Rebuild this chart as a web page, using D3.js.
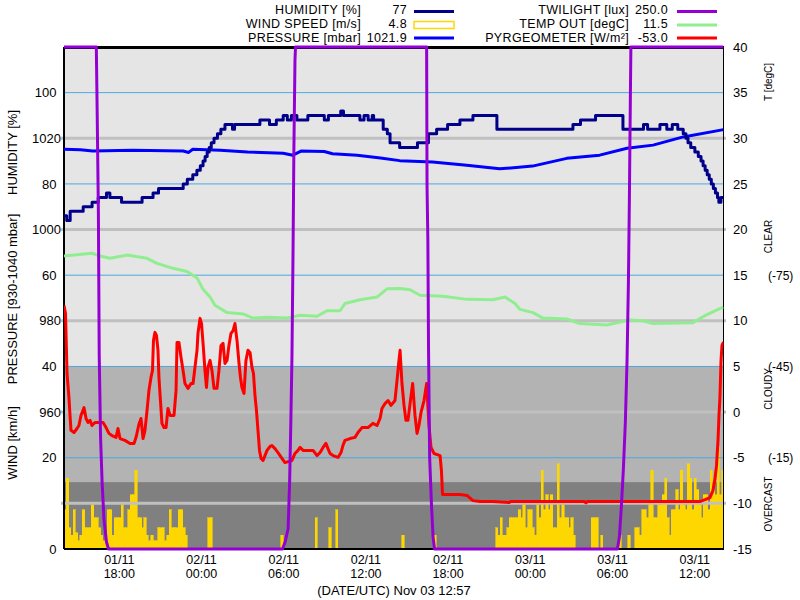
<!DOCTYPE html>
<html><head><meta charset="utf-8">
<script src="https://cdn.jsdelivr.net/npm/d3@7"></script>
<style>
body{margin:0;background:#fff}
text{font-family:"Liberation Sans",Arial,sans-serif}
</style>
</head><body>
<svg id="c" width="800" height="600"></svg>
<script>
// ---- time base: hours since 01/11 14:00 UTC ----
const START = Date.UTC(2023, 10, 1, 14, 0);
const SPAN_H = 48.14;

// humidity [%] : [hour, value]
const humidity = [[0,73],[0.2,72],[0.45,74],[1.4,75],[2.05,76],[2.5,77],[3.1,78],[3.35,77],[4.2,76],[5.7,77],[6.5,78],[6.9,79],[8.7,80],[9.0,81],[9.4,82],[9.7,83],[9.95,84],[10.15,85],[10.3,86],[10.45,87],[10.6,88],[10.75,89],[10.95,90],[11.2,91],[11.45,92],[11.75,93],[12.3,92],[12.45,93],[14.3,94],[15.0,93],[15.5,94],[16.0,95],[16.3,94],[16.6,95],[17.0,94],[17.8,95],[19.0,94],[19.3,95],[20.2,96],[20.4,95],[21.6,94],[21.9,95],[22.2,94],[22.5,95],[22.6,94],[23.3,92],[23.6,91],[23.8,89],[24.5,88],[25.8,89],[26.6,91],[27.2,92],[28.0,93],[28.9,94],[29.85,95],[31.6,92],[37.15,93],[37.7,94],[38.8,95],[40.8,92],[42.3,93],[42.6,92],[43.5,93],[44.0,92],[44.4,93],[44.8,92],[45.2,91],[45.4,90],[45.55,89],[45.75,88],[46.05,87],[46.3,86],[46.5,85],[46.65,84],[46.8,83],[46.95,82],[47.1,81],[47.25,80],[47.4,79],[47.55,78],[47.7,77],[47.8,76],[47.95,77],[48.14,77]];

// pressure [mbar]
const pressure = [[0,1017.6],[1.2,1017.5],[2.1,1017.2],[5.0,1017.4],[8.7,1017.2],[9.1,1016.9],[9.4,1017.6],[11.4,1017.4],[13.4,1017.0],[16.0,1016.7],[16.7,1016.3],[17.3,1017.2],[19.0,1017.1],[19.6,1016.6],[21.4,1016.3],[23.1,1015.7],[24.5,1015.1],[26.9,1014.8],[29.4,1014.1],[31.8,1013.3],[34.2,1013.9],[36.7,1015.6],[39.1,1016.3],[41.1,1017.8],[43.0,1018.5],[45.2,1020.3],[48.14,1021.9]];

// outside temperature [degC]
const tempOut = [[0,17.1],[2.04,17.4],[2.63,17.1],[3.36,16.85],[4.6,17.2],[6.06,16.85],[6.79,16.3],[7.96,15.75],[8.98,15.4],[9.71,14.7],[10.15,13.45],[10.66,12.6],[11.02,11.7],[11.9,10.9],[13.07,10.75],[13.8,10.3],[14.82,10.4],[16.28,10.3],[17.23,10.6],[18.47,10.5],[19.2,11.1],[20.15,11.1],[20.51,11.9],[21.61,12.3],[22.85,12.6],[23.58,13.5],[24.53,13.55],[25.26,13.4],[25.99,12.8],[27.66,12.7],[29.42,12.35],[31.31,12.3],[32.19,12.6],[32.92,11.9],[33.28,11.25],[34.23,10.9],[34.96,10.3],[36.71,10.2],[37.66,9.7],[39.63,9.55],[41.31,10.1],[42.26,10.0],[42.99,9.7],[45.91,9.8],[46.64,10.45],[47.66,11.2],[48.14,11.5]];

// pyrgeometer [W/m2]
const pyrgeometer = [[0,-65.0],[0.11,-62.4],[0.18,-50.3],[0.22,-42.7],[0.29,-38.8],[0.36,-34.8],[0.44,-28.9],[0.51,-24.0],[0.73,-23.3],[0.95,-24.6],[1.09,-25.6],[1.24,-28.9],[1.46,-31.5],[1.61,-27.9],[1.75,-26.6],[1.90,-27.3],[2.04,-25.6],[2.26,-26.6],[2.63,-26.6],[2.85,-26.6],[3.07,-24.9],[3.28,-23.0],[3.50,-22.3],[3.80,-21.7],[3.94,-24.6],[4.09,-21.3],[4.45,-20.7],[4.82,-19.7],[5.11,-19.7],[5.26,-21.7],[5.47,-26.0],[5.62,-27.9],[5.77,-21.3],[5.91,-24.0],[6.06,-30.5],[6.20,-37.1],[6.35,-41.4],[6.46,-43.7],[6.53,-53.5],[6.64,-56.2],[6.75,-55.2],[6.86,-50.3],[6.93,-41.4],[7.04,-33.8],[7.15,-26.3],[7.30,-24.9],[7.45,-24.9],[7.59,-31.2],[7.74,-28.9],[8.03,-28.9],[8.18,-37.1],[8.25,-52.9],[8.39,-52.9],[8.54,-48.0],[8.69,-43.7],[8.83,-39.4],[9.05,-37.8],[9.27,-39.4],[9.42,-39.4],[9.56,-44.7],[9.71,-50.3],[9.78,-55.9],[9.93,-60.8],[10.04,-59.1],[10.15,-52.6],[10.29,-43.7],[10.40,-38.1],[10.51,-44.7],[10.66,-47.0],[10.80,-43.7],[10.95,-37.8],[11.17,-37.8],[11.31,-43.7],[11.46,-51.9],[11.61,-52.6],[11.75,-46.0],[11.90,-47.0],[12.04,-51.9],[12.19,-55.9],[12.34,-56.8],[12.48,-59.1],[12.63,-53.5],[12.77,-46.3],[12.88,-41.4],[12.99,-38.1],[13.14,-36.1],[13.28,-46.9],[13.43,-50.3],[13.58,-49.6],[13.72,-44.7],[13.83,-42.7],[13.94,-35.5],[14.05,-30.5],[14.16,-24.0],[14.27,-17.4],[14.38,-14.8],[14.53,-14.1],[14.67,-15.7],[14.82,-17.4],[15.04,-18.7],[15.18,-19.0],[15.40,-18.0],[15.62,-16.7],[15.91,-14.8],[16.13,-13.4],[16.42,-13.8],[16.64,-14.1],[16.86,-16.4],[17.08,-17.4],[17.23,-18.4],[17.45,-17.4],[17.81,-17.4],[18.18,-17.4],[18.47,-15.7],[18.69,-16.7],[18.91,-18.4],[19.12,-19.7],[19.27,-18.0],[19.42,-16.4],[19.64,-15.7],[20.0,-15.1],[20.22,-16.7],[20.36,-19.0],[20.51,-20.7],[20.88,-21.3],[21.24,-21.7],[21.46,-23.3],[21.75,-24.9],[22.19,-24.9],[22.55,-26.3],[22.85,-25.6],[23.07,-27.9],[23.21,-31.2],[23.43,-32.8],[23.65,-33.8],[23.87,-32.2],[24.16,-33.8],[24.31,-40.4],[24.45,-47.0],[24.53,-50.3],[24.67,-39.4],[24.82,-32.2],[24.96,-27.3],[25.11,-27.3],[25.26,-32.8],[25.45,-39.4],[25.62,-28.9],[25.77,-23.0],[25.91,-25.6],[26.06,-29.9],[26.28,-33.8],[26.47,-39.4],[26.64,-25.6],[26.79,-18.4],[27.01,-16.4],[27.45,-15.7],[27.55,-10.8],[27.63,-2.9],[28.18,-2.9],[28.91,-2.9],[29.42,-2.6],[29.85,-0.9],[30.36,-0.6],[31.31,-0.6],[32.5,-0.3],[32.6,-0.6],[38.0,-0.6],[38.1,-0.2],[38.2,-0.6],[46.42,-0.6],[46.79,-1.2],[47.15,-1.9],[47.37,-4.2],[47.52,-8.2],[47.63,-12.4],[47.74,-20.7],[47.81,-28.9],[47.88,-34.8],[47.96,-47.0],[48.03,-51.9],[48.14,-53.0]];

// twilight [lux]
const twilight = [[0,250],[2.36,250],[2.42,124],[2.51,40],[2.57,7.5],[2.67,2.4],[2.78,1.1],[2.92,0.38],[3.10,0.08],[3.25,0],[15.95,0],[16.14,0.08],[16.36,0.25],[16.47,1.1],[16.56,3.1],[16.64,7.3],[16.72,26],[16.78,80],[16.86,216],[16.9,250],[26.47,250],[26.50,53],[26.56,29],[26.61,7.9],[26.69,1.75],[26.83,0.59],[26.94,0.14],[27.05,0],[40.4,0],[40.54,0.14],[40.69,0.62],[40.83,1.4],[40.98,3.1],[41.1,7.0],[41.2,18],[41.27,46],[41.34,139],[41.38,250],[48.14,250]];

// wind speed [m/s] : [minutes since start, value], 10-minute bars
const windSpeed = [[0,2.4],[10,4.3],[20,1.3],[30,0.85],[40,2.4],[50,1.0],[60,0.5],[70,0.85],[80,2.4],[90,1.3],[100,1.3],[110,1.3],[120,2.7],[130,1.9],[140,1.9],[150,1.3],[160,0.85],[170,0.5],[180,0.5],[190,2.4],[200,2.4],[210,0.85],[220,1.9],[230,1.9],[240,1.9],[250,2.7],[260,1.3],[270,1.3],[280,2.4],[290,3.3],[300,3.3],[310,4.8],[320,1.9],[330,1.9],[340,1.3],[350,1.9],[360,0.85],[370,0.5],[380,0.85],[390,0.5],[400,0.5],[410,1.3],[420,1.3],[430,1.3],[440,0.5],[450,0.85],[460,2.4],[470,1.3],[480,1.3],[490,1.3],[500,2.4],[510,2.4],[520,1.3],[530,0.85],[630,1.9],[640,1.9],[950,0.85],[1100,1.9],[1160,1.3],[1190,2.4],[1480,0.85],[1620,0.85],[1890,1.3],[1900,0.85],[1910,1.9],[1920,0.85],[1930,0.85],[1940,1.3],[1950,1.9],[1960,1.9],[1970,1.9],[1980,1.9],[1990,2.4],[2000,1.9],[2010,2.7],[2020,1.3],[2030,2.4],[2040,2.4],[2050,1.3],[2060,0.85],[2070,2.7],[2080,1.9],[2090,4.8],[2100,2.4],[2110,3.3],[2120,2.4],[2130,3.3],[2140,1.3],[2150,1.3],[2160,5.2],[2170,1.9],[2180,2.7],[2190,1.9],[2200,1.9],[2210,1.3],[2220,1.9],[2230,0.85],[2310,1.9],[2320,1.9],[2330,1.9],[2350,0.85],[2430,0.85],[2470,0.85],[2500,1.3],[2510,1.3],[2520,0.85],[2530,2.4],[2540,2.4],[2550,1.9],[2560,2.7],[2570,4.8],[2580,1.9],[2590,1.9],[2600,2.7],[2610,2.7],[2620,3.3],[2630,4.3],[2640,1.9],[2650,0.85],[2660,2.4],[2670,2.4],[2680,3.6],[2690,2.4],[2700,4.8],[2710,2.7],[2720,2.4],[2730,5.2],[2740,4.3],[2750,2.4],[2760,4.3],[2770,3.6],[2780,2.7],[2790,1.9],[2800,3.3],[2810,3.3],[2820,2.4],[2830,4.8],[2840,3.6],[2850,3.3],[2860,6.2],[2870,3.3],[2880,4.8]];

// axis ticks
const humTicks = [0, 20, 40, 60, 80, 100];
const presTicks = [960, 980, 1000, 1020];
const presGrid = [940, 960, 980, 1000, 1020];
const humGrid = [20, 40, 60, 80, 100];
const tempTicks = [-15, -10, -5, 0, 5, 10, 15, 20, 25, 30, 35, 40];
const pyrTicks = [-75, -45, -15];
// sky condition bands on the pyrgeometer scale
const skyBands = [[-150, -45], [-45, -7], [-7, 15]];
const skyColors = ["#e5e5e5", "#b3b3b3", "#808080"];

// ---------- drawing ----------
const svg = d3.select("#c");
const FONT = '"Liberation Sans", Arial, sans-serif';
const tH = h => new Date(START + h * 3600000);
const L = 64, R = 723.5, TOP = 47, BOT = 549;

const x = d3.scaleUtc().domain([tH(0), tH(SPAN_H)]).range([L, R]);
const yHum = d3.scaleLinear().domain([0, 110]).range([BOT, TOP]);
const yPres = d3.scaleLinear().domain([930, 1040]).range([BOT, TOP]);
const yTemp = d3.scaleLinear().domain([-15, 40]).range([BOT, TOP]);
const yPyr = d3.scaleLinear().domain([15, -150]).range([BOT, TOP]);
const yLux = d3.scaleSymlog().constant(1).domain([0, 250]).range([BOT, TOP]);

svg.append("defs").append("clipPath").attr("id", "clip")
  .append("rect").attr("x", L).attr("y", 40).attr("width", R - L).attr("height", 515);

const plot = svg.append("g").attr("clip-path", "url(#clip)");
// bands
plot.append("g").selectAll("rect").data(skyBands).join("rect")
  .attr("x", L).attr("width", R - L)
  .attr("y", d => yPyr(d[0]))
  .attr("height", d => yPyr(d[1]) - yPyr(d[0]))
  .attr("fill", (d, i) => skyColors[i]);

// wind bars
plot.append("g").attr("shape-rendering", "crispEdges").selectAll("rect").data(windSpeed).join("rect")
  .attr("x", d => x(tH(d[0] / 60)))
  .attr("width", d => x(tH((d[0] + 10) / 60)) - x(tH(d[0] / 60)))
  .attr("y", d => yHum(d[1] * 3.6))
  .attr("height", d => BOT - yHum(d[1] * 3.6))
  .attr("fill", "#ffd700").attr("stroke", "#ffd700").attr("stroke-width", 0.6);

// grid
svg.append("g").selectAll("line").data(presGrid).join("line")
  .attr("x1", L - 3).attr("x2", R + 2.5)
  .attr("y1", d => yPres(d)).attr("y2", d => yPres(d))
  .attr("stroke", "#c0c0c0").attr("stroke-width", 3);
svg.append("g").selectAll("line").data(humGrid).join("line")
  .attr("x1", L).attr("x2", R)
  .attr("y1", d => yHum(d)).attr("y2", d => yHum(d))
  .attr("stroke", "#4ea8de").attr("stroke-width", 1);

// frame
const frame = svg.append("g").attr("stroke", "#000").attr("shape-rendering", "crispEdges");
frame.append("line").attr("x1", L).attr("x2", L).attr("y1", TOP).attr("y2", BOT).attr("stroke-width", 1.5);
frame.append("line").attr("x1", R).attr("x2", R).attr("y1", TOP).attr("y2", BOT).attr("stroke-width", 1.5);
frame.append("line").attr("x1", L).attr("x2", R).attr("y1", BOT).attr("y2", BOT).attr("stroke-width", 1.5);
frame.append("line").attr("x1", L).attr("x2", R).attr("y1", TOP).attr("y2", TOP).attr("stroke-width", 3);

const lines = svg.append("g").attr("clip-path", "url(#clip)").attr("fill", "none")
  .attr("stroke-width", 3).attr("stroke-linejoin", "round");
const mk = (ys, curve) => d3.line().x(d => x(tH(d[0]))).y(d => ys(d[1])).curve(curve || d3.curveLinear);
lines.append("path").datum(tempOut).attr("d", mk(yTemp)).attr("stroke", "#90ee90");
lines.append("path").datum(pressure).attr("d", mk(yPres)).attr("stroke", "#0000ff");
lines.append("path").datum(humidity).attr("d", mk(yHum, d3.curveStepAfter)).attr("stroke", "#00008b");
lines.append("path").datum(pyrgeometer).attr("d", mk(yPyr)).attr("stroke", "#ff0000");
lines.append("path").datum(twilight).attr("d", mk(yLux)).attr("stroke", "#9400d3");

// axes
function styleAxis(g, size) {
  g.attr("font-family", FONT).attr("font-size", size);
  g.select(".domain").remove();
}
svg.append("g").attr("transform", `translate(${L},0)`)
  .call(d3.axisLeft(yHum).tickValues(humTicks).tickFormat(d3.format("d")).tickSize(0).tickPadding(7.5))
  .call(g => styleAxis(g, 13));
svg.append("g").attr("transform", `translate(${L},0)`)
  .call(d3.axisLeft(yPres).tickValues(presTicks).tickFormat(d3.format("d")).tickSize(0).tickPadding(3))
  .call(g => styleAxis(g, 13));
svg.append("g").attr("transform", `translate(${R},0)`)
  .call(d3.axisRight(yTemp).tickValues(tempTicks).tickFormat(d => String(d)).tickSize(0).tickPadding(9.5))
  .call(g => styleAxis(g, 13));
svg.append("g").attr("transform", `translate(${R},0)`)
  .call(d3.axisRight(yPyr).tickValues(pyrTicks).tickFormat(d => `(${d})`).tickSize(0).tickPadding(44.5))
  .call(g => styleAxis(g, 12));

const fmtD = d3.utcFormat("%d/%m"), fmtT = d3.utcFormat("%H:%M");
const xa = svg.append("g").attr("transform", `translate(0,${BOT})`)
  .call(d3.axisBottom(x).ticks(d3.utcHour.every(6)).tickFormat(fmtD).tickSize(0))
  .call(g => styleAxis(g, 12.5));
xa.selectAll(".tick").each(function (d) {
  const g = d3.select(this);
  g.select("text").attr("dy", null).attr("y", 14.5);
  g.append("text").attr("fill", "currentColor").attr("y", 28.5).text(fmtT(d));
});

// titles
const txt = (s, tx, ty, size, rot, anchor) => svg.append("text")
  .attr("transform", `translate(${tx},${ty})` + (rot ? " rotate(-90)" : ""))
  .attr("text-anchor", anchor || "middle").attr("font-size", size).attr("fill", "#000").text(s);
txt("HUMIDITY [%]", 16.5, 152.5, 13, true);
txt("PRESSURE [930-1040 mbar]", 16.5, 299, 13, true);
txt("WIND [km/h]", 16.5, 443, 13, true);
txt("T [degC]", 772, 82, 10, true);
txt("CLEAR", 772, 236.5, 10, true);
txt("CLOUDY", 772, 389, 10, true);
txt("OVERCAST", 772, 504, 10, true);
txt("(DATE/UTC) Nov 03 12:57", 394, 595, 13, false);

// legend
const last = a => a[a.length - 1][1];
const legend = [
  {label: "HUMIDITY [%]", value: d3.format(".0f")(last(humidity)), color: "#00008b", box: false, col: 0, row: 0},
  {label: "WIND SPEED [m/s]", value: d3.format(".1f")(last(windSpeed)), color: "#ffd700", box: true, col: 0, row: 1},
  {label: "PRESSURE [mbar]", value: d3.format(".1f")(last(pressure)), color: "#0000ff", box: false, col: 0, row: 2},
  {label: "TWILIGHT [lux]", value: d3.format(".1f")(last(twilight)), color: "#9400d3", box: false, col: 1, row: 0},
  {label: "TEMP OUT [degC]", value: d3.format(".1f")(last(tempOut)), color: "#90ee90", box: false, col: 1, row: 1},
  {label: "PYRGEOMETER [W/m\u00B2]", value: d3.format(".1f")(last(pyrgeometer)).replace("\u2212", "-"), color: "#ff0000", box: false, col: 1, row: 2}
];
const colX = [{lab: 361, val: 407, s0: 414, s1: 454}, {lab: 629, val: 668, s0: 677, s1: 717}];
const rowY = [13.5, 27.5, 41.5];
const lineY = [11.5, 25, 38];
const lg = svg.append("g").attr("font-size", 12.5).attr("letter-spacing", 0.35);
legend.forEach(e => {
  const c = colX[e.col];
  lg.append("text").attr("x", c.lab).attr("y", rowY[e.row]).attr("text-anchor", "end").text(e.label);
  lg.append("text").attr("x", c.val).attr("y", rowY[e.row]).attr("text-anchor", "end").text(e.value);
  if (e.box) {
    lg.append("rect").attr("x", c.s0).attr("y", lineY[e.row] - 3.5).attr("width", c.s1 - c.s0).attr("height", 7)
      .attr("fill", "none").attr("stroke", e.color).attr("stroke-width", 1.5);
  } else {
    lg.append("line").attr("x1", c.s0).attr("x2", c.s1).attr("y1", lineY[e.row]).attr("y2", lineY[e.row])
      .attr("stroke", e.color).attr("stroke-width", 3);
  }
});
</script>
</body></html>
